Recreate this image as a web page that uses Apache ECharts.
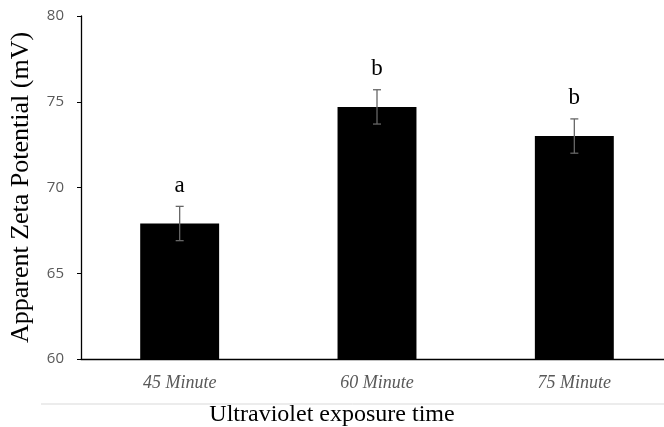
<!DOCTYPE html>
<html>
<head>
<meta charset="utf-8">
<script src="https://cdn.jsdelivr.net/npm/echarts@6/dist/echarts.min.js"></script>
<style>
  html, body { margin: 0; padding: 0; background: #fff; }
  #chart { width: 664px; height: 427px; }
</style>
</head>
<body>
<div id="chart"></div>
<script>
const categories = ['45 Minute', '60 Minute', '75 Minute'];
const means = [67.9, 74.7, 73.0];
const errors = [1.0, 1.0, 1.0];
const letters = ['a', 'b', 'b'];
const yTicks = [60, 65, 70, 75, 80];

const errData = means.map((m, i) => [i, m - errors[i], m + errors[i], letters[i]]);

function renderErr(params, api) {
    const x = api.value(0);
    const lo = api.coord([x, api.value(1)]);
    const hi = api.coord([x, api.value(2)]);
    const cap = 4;
    const st = { stroke: '#666', lineWidth: 1.3 };
    return {
        type: 'group',
        children: [
            { type: 'line', shape: { x1: hi[0], y1: hi[1], x2: lo[0], y2: lo[1] }, style: st },
            { type: 'line', shape: { x1: hi[0] - cap, y1: hi[1], x2: hi[0] + cap, y2: hi[1] }, style: st },
            { type: 'line', shape: { x1: lo[0] - cap, y1: lo[1], x2: lo[0] + cap, y2: lo[1] }, style: st },
            {
                type: 'text',
                x: hi[0], y: hi[1] - 9,
                style: {
                    text: api.value(3),
                    fill: '#000',
                    font: '23px "Liberation Serif"',
                    align: 'center',
                    verticalAlign: 'bottom'
                }
            }
        ]
    };
}

const chart = echarts.init(document.getElementById('chart'));
chart.setOption({
    animation: false,
    title: {
        text: 'Ultraviolet exposure time',
        left: 'center',
        top: 398,
        textStyle: { fontFamily: 'Liberation Serif', fontSize: 24, fontWeight: 'normal', color: '#000' }
    },
    grid: { left: 81, top: 16, height: 343, width: 592, outerBoundsMode: 'none', containLabel: false },
    xAxis: {
        type: 'category',
        data: categories,
        axisLine: { lineStyle: { color: '#000', width: 1.3 } },
        axisTick: { alignWithLabel: true, length: 5, lineStyle: { color: '#000' } },
        axisLabel: {
            margin: 15,
            fontFamily: 'Liberation Serif',
            fontStyle: 'italic',
            fontSize: 18,
            color: '#595959'
        }
    },
    yAxis: {
        type: 'value',
        min: 60,
        max: 80,
        interval: 5,
        name: 'Apparent Zeta Potential (mV)',
        nameLocation: 'middle',
        nameGap: 47,
        nameTextStyle: { fontFamily: 'Liberation Serif', fontSize: 26, color: '#000' },
        splitLine: { show: false },
        axisLine: { show: true, lineStyle: { color: '#000', width: 1.3 } },
        axisTick: { show: true, length: 4, lineStyle: { color: '#000' } },
        axisLabel: {
            margin: 17,
            fontFamily: 'Open Sans',
            fontSize: 15,
            color: '#595959',
            formatter: v => yTicks.includes(v) ? String(v) : ''
        }
    },
    graphic: [{
        type: 'line',
        shape: { x1: 41, y1: 404, x2: 664, y2: 404 },
        style: { stroke: '#d9d9d9', lineWidth: 1 }
    }],
    series: [{
        type: 'bar',
        data: means,
        barWidth: '40%',
        itemStyle: { color: '#000' }
    }, {
        type: 'custom',
        renderItem: renderErr,
        data: errData,
        z: 5
    }]
});
</script>
</body>
</html>
